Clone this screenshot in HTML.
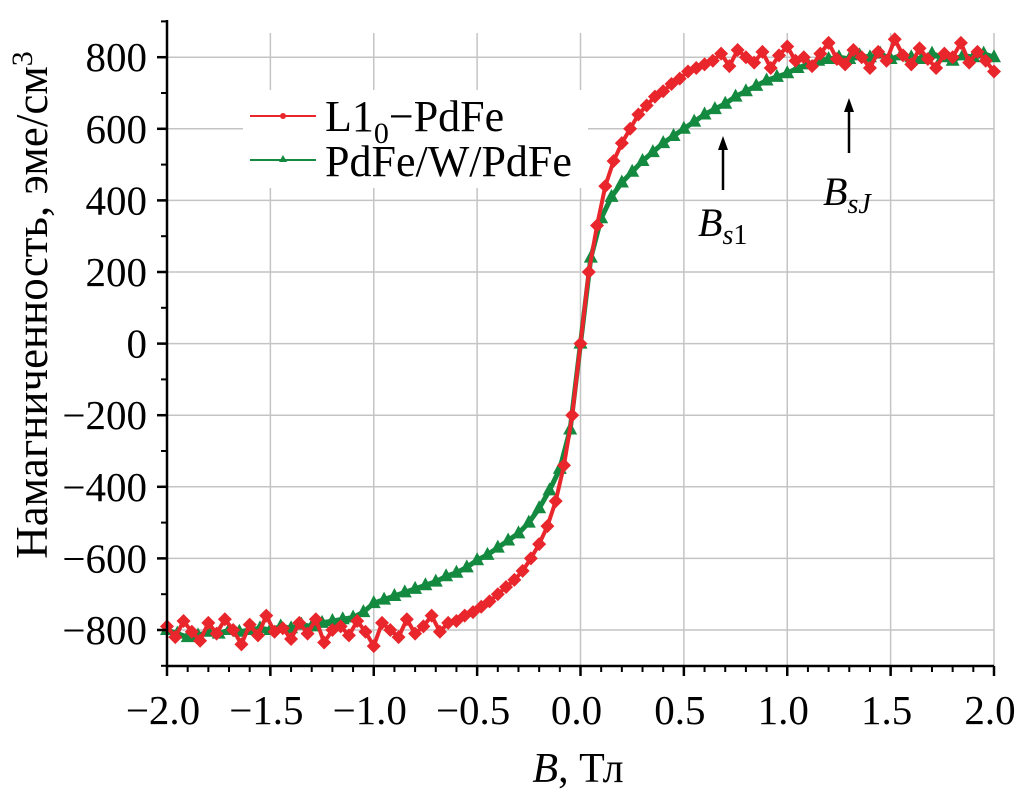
<!DOCTYPE html>
<html><head><meta charset="utf-8"><style>
html,body{margin:0;padding:0;background:#fff;}
svg text{font-family:"Liberation Serif",serif;fill:#000;}
</style></head><body>
<svg id="chart" width="1016" height="793" viewBox="0 0 1016 793" xmlns="http://www.w3.org/2000/svg">
<g id="grid"></g>
<g id="series"></g>
<g id="axes"></g>
<g>
 <rect x="243" y="90" width="345" height="98" fill="#fff"/>
 <g>
  <line x1="250" y1="116" x2="316" y2="116" stroke="#e8262b" stroke-width="2"/>
  <circle cx="283" cy="116" r="3" fill="#e8262b"/>
  <text x="325" y="131" font-size="44">L1<tspan font-size="30" dy="12">0</tspan><tspan dy="-12">−PdFe</tspan></text>
 </g>
 <g>
  <line x1="250" y1="160" x2="316" y2="160" stroke="#138a3f" stroke-width="2"/>
  <polygon points="283,155 287,162 279,162" fill="#138a3f"/>
  <text x="325" y="176" font-size="44">PdFe/W/PdFe</text>
 </g>
</g>
<g>
 <line x1="723" y1="190" x2="723" y2="146" stroke="#000" stroke-width="2.5"/>
 <polygon points="723,136 718,150 728,150" fill="#000"/>
 <text x="698" y="236" font-size="40" font-style="italic">B<tspan font-size="28" dy="8">s</tspan><tspan font-size="28" font-style="normal">1</tspan></text>
</g>
<g>
 <line x1="849" y1="153" x2="849" y2="108" stroke="#000" stroke-width="2.5"/>
 <polygon points="849,98 844,112 854,112" fill="#000"/>
 <text x="823" y="205" font-size="40" font-style="italic">B<tspan font-size="28" dy="8">sJ</tspan></text>
</g>
<text x="578" y="782" font-size="42" text-anchor="middle"><tspan font-style="italic">B</tspan>, Тл</text>
<text transform="translate(47,305) rotate(-90)" font-size="45" text-anchor="middle">Намагниченность, эме/см<tspan font-size="30" dy="-15">3</tspan></text>
</svg>
<script>
const xTicks=[-2.0,-1.5,-1.0,-0.5,0.0,0.5,1.0,1.5,2.0];
const xTickLabels=["−2.0","−1.5","−1.0","−0.5","0.0","0.5","1.0","1.5","2.0"];
const yTicks=[-800,-600,-400,-200,0,200,400,600,800];
const yTickLabels=["−800","−600","−400","−200","0","200","400","600","800"];
const redB0=-2.0, redStep=0.04;
const redM=[-790,-820,-775,-805,-830,-780,-810,-770,-800,-840,-785,-815,-760,-805,-795,-825,-780,-810,-770,-835,-800,-790,-815,-775,-805,-845,-780,-800,-820,-770,-810,-790,-760,-805,-780,
-775,-760,-750,-735,-720,-700,-680,-660,-635,-600,-560,-510,-440,-340,-200,0,200,330,440,510,560,600,640,665,690,705,725,740,760,770,780,
790,810,775,820,800,785,815,770,805,830,790,800,775,810,840,795,780,820,800,770,815,790,850,805,780,825,795,770,810,800,840,785,815,790,760];
const greenB0=-2.0, greenStep=0.05;
const greenM=[-800,-810,-820,-815,-805,-810,-800,-805,-800,-795,-800,-790,-795,-785,-790,-780,-775,-770,-765,-750,-725,-715,-705,-695,-685,-675,-665,-650,-640,-625,-605,-590,-570,-550,-530,-500,-460,-410,-350,-240,0,240,350,410,450,480,510,535,560,580,600,620,640,655,670,690,705,720,735,745,755,770,780,790,795,800,795,805,800,810,795,805,800,795,810,800,790,805,800,810,800];
const NS="http://www.w3.org/2000/svg";
const X0=167,X1=994,Y0=666,Y1=20;
const xs=b=>X0+(b+2)/4*(X1-X0);
const ys=m=>343.6-m*(71.6/200);
function mk(t,a,p){const e=document.createElementNS(NS,t);for(const k in a)e.setAttribute(k,a[k]);p.appendChild(e);return e;}
const grid=document.getElementById('grid'),axes=document.getElementById('axes'),ser=document.getElementById('series');
xTicks.forEach((v,i)=>{ if(i>0){const l=mk('line',{x1:xs(v),x2:xs(v),y1:33,y2:Y0,stroke:'#c4c4c4','stroke-width':1.5},grid);

}
 mk('line',{x1:xs(v),x2:xs(v),y1:Y0,y2:Y0+10,stroke:'#000','stroke-width':2.5},axes);
 const t=mk('text',{x:xs(v)-4,y:Y0+58,'font-size':41,'text-anchor':'middle'},axes);t.textContent=xTickLabels[i];
 
 
});
for(let v=-2;v<=2.001;v+=0.1){mk('line',{x1:xs(v),x2:xs(v),y1:Y0,y2:Y0+6,stroke:'#000','stroke-width':2},axes);}
yTicks.forEach((v,i)=>{const l=mk('line',{x1:X0,x2:X1,y1:ys(v),y2:ys(v),stroke:'#c4c4c4','stroke-width':1.5},grid);
 
 
 mk('line',{x1:X0-10,x2:X0,y1:ys(v),y2:ys(v),stroke:'#000','stroke-width':2.5},axes);
 const t=mk('text',{x:X0-20,y:ys(v)+14,'font-size':41,'text-anchor':'end'},axes);t.textContent=yTickLabels[i];
 
 
});
for(let v=-900;v<=900;v+=100){mk('line',{x1:X0-6,x2:X0,y1:ys(v),y2:ys(v),stroke:'#000','stroke-width':2},axes);}
const ax=mk('path',{d:`M${X0},${Y1}V${Y0}H${X1}`,fill:'none',stroke:'#000','stroke-width':2.5},axes);


let gp=greenM.map((m,i)=>[xs(greenB0+i*greenStep),ys(m)]);
const gl=mk('polyline',{points:gp.map(p=>p.join(',')).join(' '),fill:'none',stroke:'#138a3f','stroke-width':5},ser);


gp.forEach(p=>{const t=mk('polygon',{points:`${p[0]},${p[1]-8} ${p[0]+7},${p[1]+5} ${p[0]-7},${p[1]+5}`,fill:'#138a3f'},ser);
 
 });
let rp=redM.map((m,i)=>[xs(redB0+i*redStep),ys(m)]);
const rl=mk('polyline',{points:rp.map(p=>p.join(',')).join(' '),fill:'none',stroke:'#e8262b','stroke-width':4},ser);


rp.forEach(p=>{const c=mk('path',{d:`M${p[0]},${p[1]-7}L${p[0]+7},${p[1]}L${p[0]},${p[1]+7}L${p[0]-7},${p[1]}Z`,fill:'#e8262b'},ser);
 
 });
</script>
</body></html>
